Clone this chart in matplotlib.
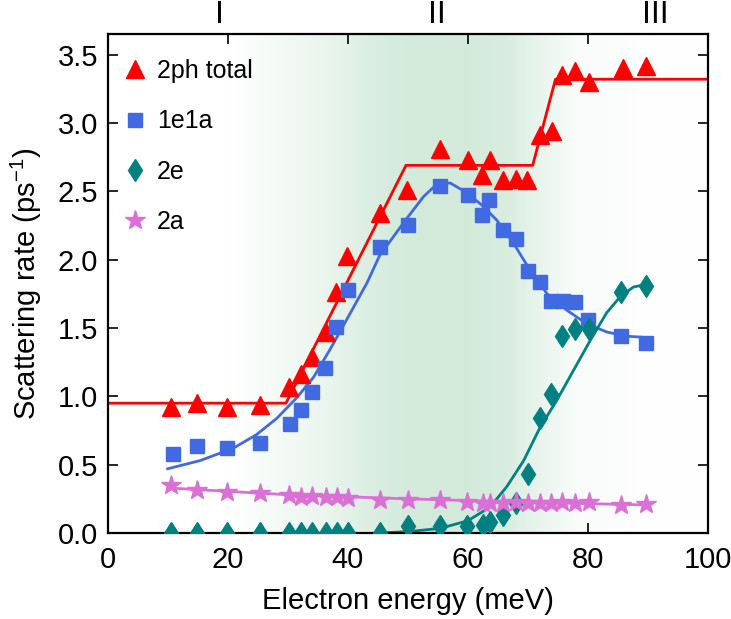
import numpy as np
import matplotlib
matplotlib.use("Agg")
import matplotlib.pyplot as plt
from matplotlib.transforms import blended_transform_factory

plt.rcParams['font.family'] = ['Liberation Sans', 'DejaVu Sans']
plt.rcParams['mathtext.default'] = 'regular'

# ---------------- data ----------------
tot_x = [10.6, 14.9, 19.8, 25.3, 30.2, 32.2, 34.0, 36.3, 38.0, 39.9, 45.3, 49.9,
         55.3, 60.0, 62.4, 63.7, 65.8, 68.1, 69.8, 72.1, 74.0, 75.7, 77.9, 80.2, 85.8, 89.6]
tot_y = [0.92, 0.95, 0.92, 0.94, 1.07, 1.16, 1.29, 1.47, 1.76, 2.03, 2.34, 2.51,
         2.81, 2.73, 2.62, 2.73, 2.58, 2.59, 2.58, 2.91, 2.94, 3.35, 3.38, 3.30, 3.40, 3.42]
tot_fit_x = [0, 29.7, 49.7, 70.8, 74.6, 100]
tot_fit_y = [0.95, 0.95, 2.69, 2.69, 3.32, 3.32]

ea_x = [10.8, 14.9, 19.9, 25.3, 30.3, 32.2, 34.1, 36.2, 38.1, 40.0, 45.3, 50.0,
        55.3, 60.0, 62.4, 63.6, 65.8, 68.0, 70.0, 72.1, 73.8, 75.8, 77.8, 80.0, 85.5, 89.7]
ea_y = [0.58, 0.64, 0.62, 0.66, 0.80, 0.90, 1.03, 1.21, 1.51, 1.78, 2.09, 2.25,
        2.54, 2.47, 2.33, 2.44, 2.22, 2.15, 1.92, 1.84, 1.70, 1.70, 1.69, 1.56, 1.44, 1.39]
ea_fit_x = [10.0, 15.4, 20.9, 24.8, 28.2, 31.5, 34.3, 37.0, 39.8, 43.2, 45.3, 49.8,
            52.6, 55.0, 57.1, 59.8, 62.3, 64.8, 67.6, 70.4, 73.2, 76.5, 79.8, 83.2, 86.5, 89.8]
ea_fit_y = [0.47, 0.53, 0.62, 0.72, 0.84, 0.99, 1.14, 1.34, 1.56, 1.83, 2.03, 2.30,
            2.46, 2.56, 2.56, 2.49, 2.40, 2.29, 2.12, 1.92, 1.75, 1.63, 1.53, 1.47, 1.44, 1.43]

ee_x = [10.6, 14.9, 19.8, 25.3, 30.2, 32.2, 34.0, 36.3, 38.2, 40.0, 45.3, 50.1,
        55.3, 59.9, 62.5, 63.7, 65.9, 68.0, 70.0, 72.0, 73.8, 75.7, 77.9, 80.1, 85.5, 89.7]
ee_y = [0.0, 0.0, 0.0, 0.0, 0.0, 0.0, 0.0, 0.0, 0.0, 0.0, 0.0, 0.05,
        0.05, 0.05, 0.06, 0.08, 0.13, 0.22, 0.43, 0.84, 1.02, 1.44, 1.49, 1.49, 1.76, 1.81]
ee_fit_x = [45.0, 50.0, 55.4, 60.0, 63.7, 66.5, 69.3, 72.0, 74.8, 77.6, 80.4, 83.1, 85.4, 87.6, 89.8]
ee_fit_y = [0.0, 0.01, 0.034, 0.09, 0.19, 0.34, 0.53, 0.77, 0.97, 1.19, 1.41, 1.61, 1.73, 1.80, 1.82]

aa_x = ee_x
aa_y = [0.35, 0.315, 0.30, 0.29, 0.278, 0.266, 0.27, 0.26, 0.26, 0.256, 0.245, 0.241,
        0.241, 0.229, 0.217, 0.217, 0.22, 0.229, 0.217, 0.217, 0.22, 0.229, 0.22, 0.229, 0.205, 0.212]
aa_fit_x = [10.0, 30.0, 50.0, 70.0, 90.0]
aa_fit_y = [0.33, 0.28, 0.25, 0.225, 0.205]

xticks = [0, 20, 40, 60, 80, 100]
yticks = [0.0, 0.5, 1.0, 1.5, 2.0, 2.5, 3.0, 3.5]
regions = ['I', 'II', 'III']
region_x = [18.7, 54.9, 91.2]

RED = '#ff0000'
BLUE = '#4169e1'
TEAL = '#008080'
ORCHID = '#da70d6'

XMAX, YMAX = 100, 3.65

fig = plt.figure(figsize=(7.31, 6.19), dpi=100)
ax = fig.add_axes([0.1473, 0.1389, 0.8212, 0.806])

# background gradient (style)
gx = np.linspace(0, XMAX, 500)
prof = np.interp(gx, [0, 20, 35, 47, 52, 60, 66, 72, 78, 90, 100],
                 [0, 0, 0.45, 0.95, 1, 1, 0.9, 0.5, 0.15, 0.03, 0])
green = np.array([0.83, 0.92, 0.86])
img = 1 - prof[:, None] * (1 - green[None, :])
img = np.tile(img[None, :, :], (2, 1, 1))
ax.imshow(img, extent=[0, XMAX, 0, YMAX], aspect='auto', origin='lower', zorder=0)

lw = 2.0
ax.plot(tot_fit_x, tot_fit_y, color=RED, lw=lw, zorder=2)
ax.plot(ea_fit_x, ea_fit_y, color=BLUE, lw=lw, zorder=2)
ax.plot(ee_fit_x, ee_fit_y, color=TEAL, lw=lw, zorder=2)
ax.plot(aa_fit_x, aa_fit_y, color=ORCHID, lw=lw, zorder=2)

ax.plot(tot_x, tot_y, ls='none', marker='^', ms=13, color=RED, label='2ph total', zorder=3)
ax.plot(ea_x, ea_y, ls='none', marker='s', ms=9.5, color=BLUE, label='1e1a', zorder=3)
ax.plot(ee_x, ee_y, ls='none', marker='d', ms=11.5, color=TEAL, label='2e', zorder=3)
ax.plot(aa_x, aa_y, ls='none', marker='*', ms=15, color=ORCHID, label='2a', zorder=3)

ax.set_xlim(0, XMAX)
ax.set_ylim(0, YMAX)
ax.set_xticks(xticks)
ax.set_yticks(yticks)
ax.set_yticklabels([f'{v:.1f}' for v in yticks])
ax.tick_params(direction='in', length=7, width=1.2, labelsize=21, top=True, right=True)
ax.tick_params(axis='x', pad=9)
ax.tick_params(axis='y', pad=7)
for s in ax.spines.values():
    s.set_linewidth(1.6)

ax.set_xlabel('Electron energy (meV)', fontsize=21, labelpad=10)
ax.set_ylabel('Scattering rate (ps$^{-1}$)', fontsize=21, labelpad=10)

trans = blended_transform_factory(ax.transData, ax.transAxes)
for lab, xv in zip(regions, region_x):
    ax.text(xv, 1.038, lab, transform=trans, ha='center', va='center', fontsize=23)

leg = ax.legend(loc='upper left', frameon=False, fontsize=18, labelspacing=1.05,
                handlelength=0.8, handletextpad=0.45, borderaxespad=0.6,
                bbox_to_anchor=(-0.012, 1.0))

fig.savefig('out.png', dpi=100)
